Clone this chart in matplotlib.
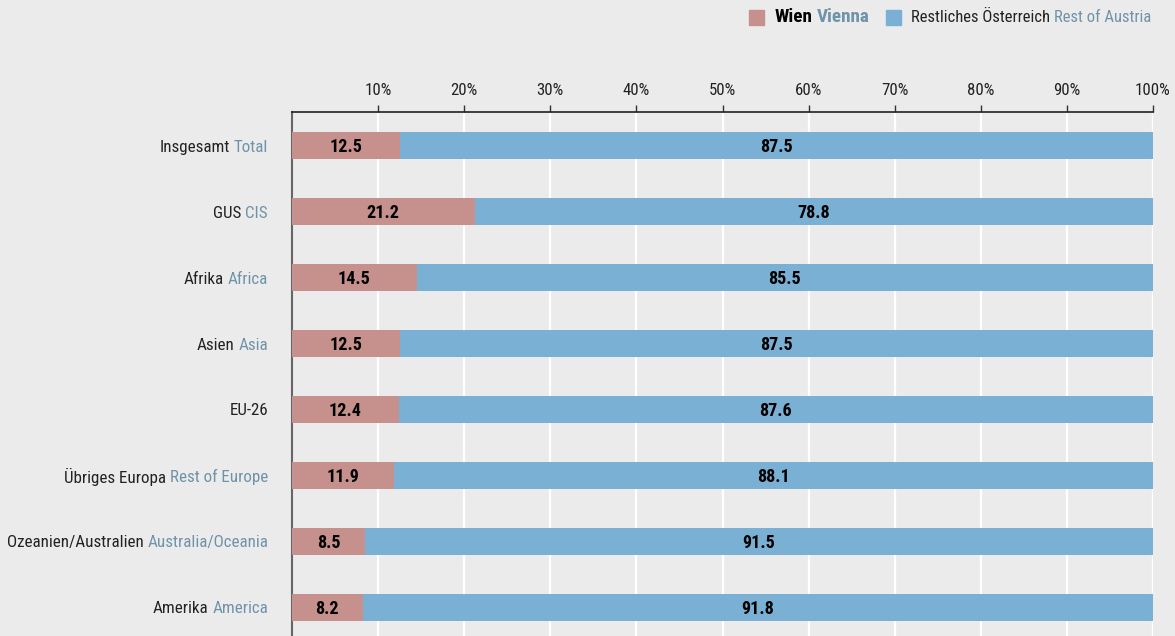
import matplotlib
matplotlib.use("Agg")
import matplotlib.pyplot as plt
import matplotlib.transforms as mtransforms
from matplotlib.patches import Rectangle

plt.rcParams['font.family'] = ['Liberation Sans Narrow', 'Roboto Condensed',
                               'Open Sans Condensed', 'Noto Sans', 'DejaVu Sans']
plt.rcParams['font.stretch'] = 'condensed'

categories_de = ["Insgesamt", "GUS", "Afrika", "Asien", "EU-26", "Übriges Europa",
                 "Ozeanien/Australien", "Amerika"]
categories_en = ["Total", "CIS", "Africa", "Asia", "", "Rest of Europe",
                 "Australia/Oceania", "America"]
vienna = [12.5, 21.2, 14.5, 12.5, 12.4, 11.9, 8.5, 8.2]
rest = [87.5, 78.8, 85.5, 87.5, 87.6, 88.1, 91.5, 91.8]
xticks = [10, 20, 30, 40, 50, 60, 70, 80, 90, 100]

BG = "#ebebeb"
C_VIE = "#c6918c"
C_REST = "#7ab0d3"
C_EN = "#6f93a8"

W, H = 1175, 636
fig = plt.figure(figsize=(W / 100, H / 100), dpi=100, facecolor=BG)
renderer = fig.canvas.get_renderer()


def text_w(txt, fs, weight="normal"):
    t = fig.text(0, 0, txt, fontsize=fs, fontweight=weight)
    w = t.get_window_extent(renderer).width
    t.remove()
    return w


def fit_size(txt, target_px, weight="normal"):
    return 10 * target_px / text_w(txt, 10, weight)


FS_LAB = fit_size("Ozeanien/Australien Australia/Oceania", 260)
FS_TICK = fit_size("100%", 35)
FS_BAR = fit_size("12.5", 33, "bold")
FS_LEG = fit_size("Restliches Österreich", 138)
FS_LEGB = fit_size("Wien Vienna", 95, "bold")

ax = fig.add_axes([292 / W, 0, 861 / W, 524 / H], facecolor=BG)

y = list(range(len(categories_de)))
ax.barh(y, vienna, height=0.41, color=C_VIE, zorder=3)
ax.barh(y, rest, left=vienna, height=0.41, color=C_REST, zorder=3)

dtrans = mtransforms.offset_copy(ax.transData, fig=fig, x=0, y=-1.5, units="dots")
for i in y:
    ax.text(vienna[i] / 2, i, f"{vienna[i]:.1f}", ha="center", va="center",
            fontsize=FS_BAR, fontweight="bold", color="black", zorder=4,
            transform=dtrans)
    ax.text(vienna[i] + rest[i] / 2, i, f"{rest[i]:.1f}", ha="center", va="center",
            fontsize=FS_BAR, fontweight="bold", color="black", zorder=4,
            transform=dtrans)

ax.set_xlim(0, 100)
ax.set_ylim(7.44, -0.516)
ax.xaxis.tick_top()
ax.set_xticks(xticks)
ax.set_xticklabels([f"{t}%" for t in xticks], fontsize=FS_TICK, color="#222222")
ax.tick_params(axis="x", direction="out", length=5, width=1, color="#333333", pad=5)
ax.set_yticks([])
ax.grid(axis="x", color="white", linewidth=1.6, zorder=1)
for s in ["right", "bottom"]:
    ax.spines[s].set_visible(False)
ax.spines["top"].set_color("#222222")
ax.spines["top"].set_linewidth(1.2)
ax.spines["left"].set_color("#666666")
ax.spines["left"].set_linewidth(1.5)

fig.canvas.draw()
ytrans = ax.get_yaxis_transform()
xa = (268 - 292) / 861
for i in y:
    de, en = categories_de[i], categories_en[i]
    tr_en = mtransforms.offset_copy(ytrans, fig=fig, x=0, y=-1.5, units="dots")
    if en:
        ax.text(xa, i, en, ha="right", va="center", fontsize=FS_LAB,
                color=C_EN, transform=tr_en)
        full = text_w(de + " " + en, FS_LAB)
        tr = mtransforms.offset_copy(ytrans, fig=fig, x=-full, y=-1.5, units="dots")
        ax.text(xa, i, de, ha="left", va="center", fontsize=FS_LAB,
                color="#222222", transform=tr)
    else:
        ax.text(xa, i, de, ha="right", va="center", fontsize=FS_LAB,
                color="#222222", transform=tr_en)

# legend
ly = 1 - 17 / H
def pair(x_px, a, b, ca, cb, fs, wt):
    fig.text(x_px / W, ly, a, ha="left", va="center", fontsize=fs, color=ca,
             fontweight=wt)
    full = text_w(a + " " + b, fs, wt)
    fig.text((x_px + full) / W, ly, b, ha="right", va="center", fontsize=fs,
             color=cb, fontweight=wt)

fig.patches.append(Rectangle((749 / W, ly - 8 / H), 15 / W, 15 / H,
                             transform=fig.transFigure, color=C_VIE))
pair(775, "Wien", "Vienna", "black", C_EN, FS_LEGB, "bold")
fig.patches.append(Rectangle((886 / W, ly - 8 / H), 15 / W, 15 / H,
                             transform=fig.transFigure, color=C_REST))
pair(911, "Restliches Österreich", "Rest of Austria", "#222222", C_EN, FS_LEG, "normal")

fig.savefig("out.png", dpi=100, facecolor=BG)
